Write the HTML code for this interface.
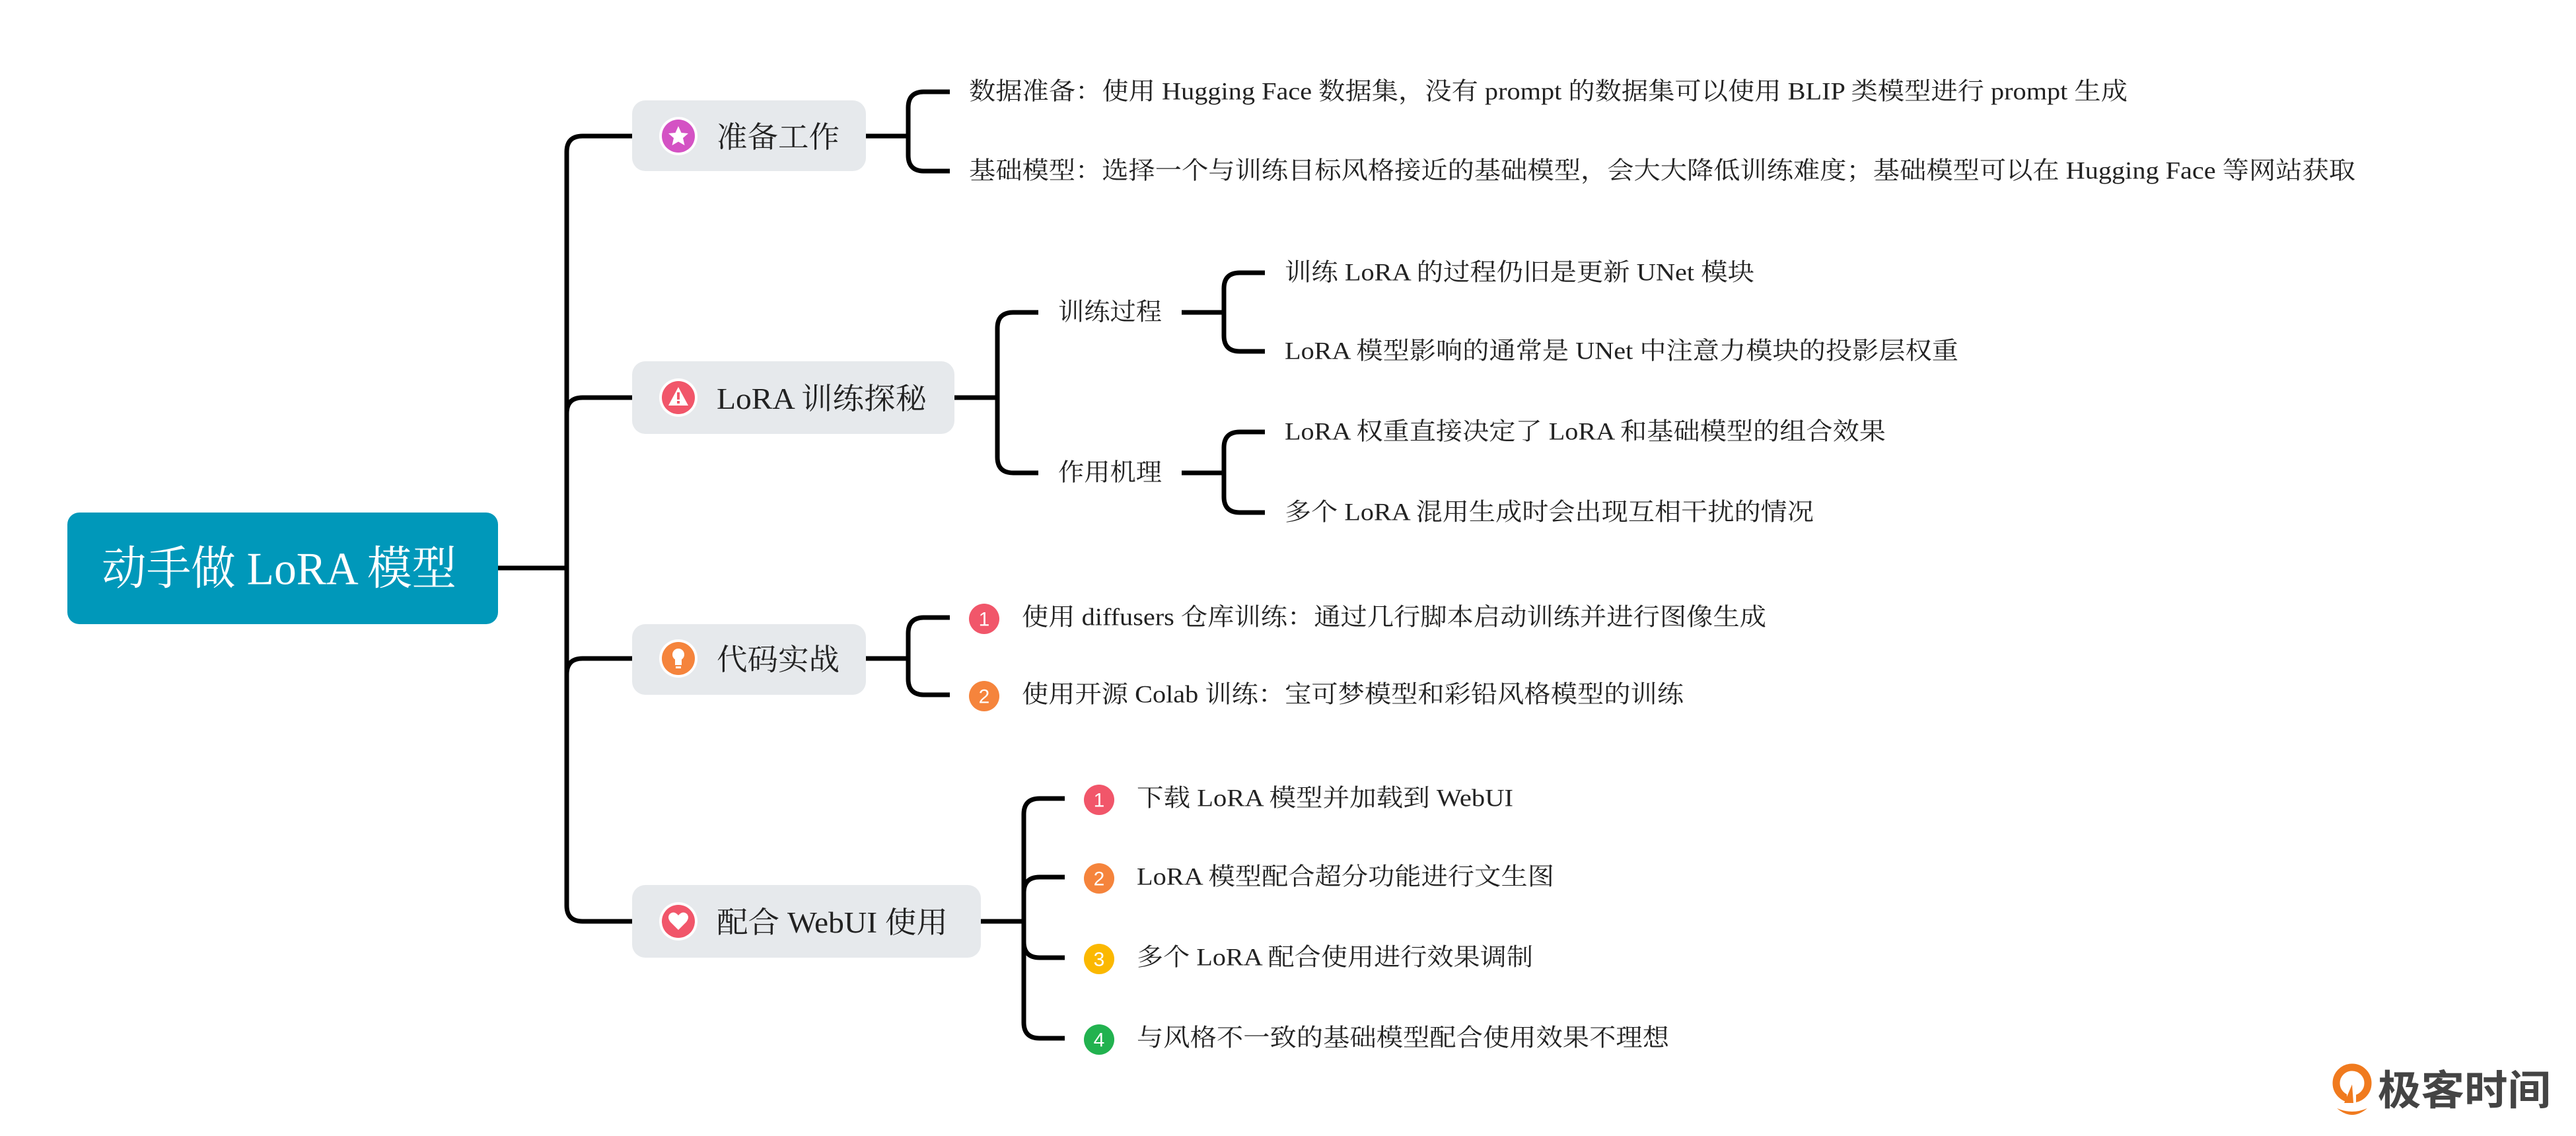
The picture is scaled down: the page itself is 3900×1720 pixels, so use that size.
<!DOCTYPE html>
<html><head><meta charset="utf-8"><style>
html,body{margin:0;padding:0;background:#fff;}
svg{display:block;}
text{font-family:"Liberation Serif","Noto Serif CJK SC",serif;fill:#222;}
</style></head><body>
<svg width="3900" height="1720" viewBox="0 0 3900 1720" xmlns="http://www.w3.org/2000/svg">
<g fill="none" stroke="#000" stroke-width="7" stroke-linecap="butt">
  <path d="M754,860 H858"/>
  <path d="M957,206 H882 Q858,206 858,230 V1371 Q858,1395 882,1395 H957"/>
  <path d="M858,640 V626 Q858,602 882,602 H957"/>
  <path d="M858,1021 V1021 Q858,997 882,997 H957"/>
  <path d="M1311,206 H1375"/>
  <path d="M1438,139 H1399 Q1375,139 1375,163 V235 Q1375,259 1399,259 H1438"/>
  <path d="M1445,602 H1510"/>
  <path d="M1572,473 H1534 Q1510,473 1510,497 V692 Q1510,716 1534,716 H1572"/>
  <path d="M1789,473 H1853"/>
  <path d="M1915,413 H1877 Q1853,413 1853,437 V508 Q1853,532 1877,532 H1915"/>
  <path d="M1789,716 H1853"/>
  <path d="M1915,654 H1877 Q1853,654 1853,678 V752 Q1853,776 1877,776 H1915"/>
  <path d="M1311,997 H1375"/>
  <path d="M1438,935 H1399 Q1375,935 1375,959 V1028 Q1375,1052 1399,1052 H1438"/>
  <path d="M1485,1395 H1550"/>
  <path d="M1612,1209 H1574 Q1550,1209 1550,1233 V1548 Q1550,1572 1574,1572 H1612"/>
  <path d="M1550,1352 Q1550,1328 1574,1328 H1612"/>
  <path d="M1550,1426 Q1550,1450 1574,1450 H1612"/>
</g>

<rect x="102" y="776" width="652" height="169" rx="18" fill="#0098ba"/>
<text x="154" y="862" font-size="70" fill="#fff" style="fill:#fff" dominant-baseline="central" textLength="537" lengthAdjust="spacingAndGlyphs">动手做 LoRA 模型</text>

<rect x="957" y="152" width="354" height="107" rx="20" fill="#e6e9ec"/>
<rect x="957" y="547" width="488" height="110" rx="20" fill="#e6e9ec"/>
<rect x="957" y="945" width="354" height="107" rx="20" fill="#e6e9ec"/>
<rect x="957" y="1340" width="528" height="110" rx="20" fill="#e6e9ec"/>

<circle cx="1027" cy="206" r="29" fill="#fff"/><circle cx="1027" cy="206" r="25" fill="#d452c4"/>
<polygon points="1027,191 1031.5,201 1042,202 1034,209 1036.5,220 1027,214.5 1017.5,220 1020,209 1012,202 1022.5,201" fill="#fff"/>
<circle cx="1027" cy="602" r="29" fill="#fff"/><circle cx="1027" cy="602" r="25" fill="#f1566a"/>
<polygon points="1027,586 1042,614 1012,614" fill="#fff"/>
<rect x="1025" y="594" width="4" height="11" fill="#f1566a"/><rect x="1025" y="607" width="4" height="4" fill="#f1566a"/>
<circle cx="1027" cy="997" r="29" fill="#fff"/><circle cx="1027" cy="997" r="25" fill="#f5843c"/>
<circle cx="1027" cy="991" r="9" fill="#fff"/><rect x="1022" y="997" width="10" height="10" fill="#fff"/><rect x="1023" y="1009" width="8" height="3" fill="#fff"/>
<circle cx="1027" cy="1395" r="29" fill="#fff"/><circle cx="1027" cy="1395" r="25" fill="#f1566a"/>
<path d="M1027,1408 L1015,1396 Q1009,1388 1015,1383 Q1021,1379 1027,1386 Q1033,1379 1039,1383 Q1045,1388 1039,1396 Z" fill="#fff"/>

<g font-size="45" dominant-baseline="central">
<text x="1085" y="208" textLength="186" lengthAdjust="spacingAndGlyphs">准备工作</text>
<text x="1085" y="604" textLength="318" lengthAdjust="spacingAndGlyphs">LoRA 训练探秘</text>
<text x="1085" y="999" textLength="186" lengthAdjust="spacingAndGlyphs">代码实战</text>
<text x="1085" y="1397" textLength="350" lengthAdjust="spacingAndGlyphs">配合 WebUI 使用</text>
</g>

<g font-size="37" dominant-baseline="central">
<text x="1467" y="139" textLength="1754" lengthAdjust="spacingAndGlyphs">数据准备：使用 Hugging Face 数据集，没有 prompt 的数据集可以使用 BLIP 类模型进行 prompt 生成</text>
<text x="1467" y="259" textLength="2099" lengthAdjust="spacingAndGlyphs">基础模型：选择一个与训练目标风格接近的基础模型，会大大降低训练难度；基础模型可以在 Hugging Face 等网站获取</text>
<text x="1602" y="473" textLength="157" lengthAdjust="spacingAndGlyphs">训练过程</text>
<text x="1602" y="716" textLength="157" lengthAdjust="spacingAndGlyphs">作用机理</text>
<text x="1945" y="413" textLength="711" lengthAdjust="spacingAndGlyphs">训练 LoRA 的过程仍旧是更新 UNet 模块</text>
<text x="1945" y="532" textLength="1020" lengthAdjust="spacingAndGlyphs">LoRA 模型影响的通常是 UNet 中注意力模块的投影层权重</text>
<text x="1945" y="654" textLength="910" lengthAdjust="spacingAndGlyphs">LoRA 权重直接决定了 LoRA 和基础模型的组合效果</text>
<text x="1945" y="776" textLength="801" lengthAdjust="spacingAndGlyphs">多个 LoRA 混用生成时会出现互相干扰的情况</text>
<text x="1547" y="935" textLength="1127" lengthAdjust="spacingAndGlyphs">使用 diffusers 仓库训练：通过几行脚本启动训练并进行图像生成</text>
<text x="1547" y="1052" textLength="1002" lengthAdjust="spacingAndGlyphs">使用开源 Colab 训练：宝可梦模型和彩铅风格模型的训练</text>
<text x="1721" y="1209" textLength="570" lengthAdjust="spacingAndGlyphs">下载 LoRA 模型并加载到 WebUI</text>
<text x="1721" y="1328" textLength="632" lengthAdjust="spacingAndGlyphs">LoRA 模型配合超分功能进行文生图</text>
<text x="1721" y="1450" textLength="600" lengthAdjust="spacingAndGlyphs">多个 LoRA 配合使用进行效果调制</text>
<text x="1721" y="1572" textLength="806" lengthAdjust="spacingAndGlyphs">与风格不一致的基础模型配合使用效果不理想</text>
</g>

<g font-family="Liberation Sans, sans-serif" font-size="30" text-anchor="middle" dominant-baseline="central">
<circle cx="1490" cy="937" r="23" fill="#f1566a"/><text x="1490" y="938" style="fill:#fff;font-family:'Liberation Sans',sans-serif">1</text>
<circle cx="1490" cy="1054" r="23" fill="#f5843c"/><text x="1490" y="1055" style="fill:#fff;font-family:'Liberation Sans',sans-serif">2</text>
<circle cx="1664" cy="1211" r="23" fill="#f1566a"/><text x="1664" y="1212" style="fill:#fff;font-family:'Liberation Sans',sans-serif">1</text>
<circle cx="1664" cy="1330" r="23" fill="#f5843c"/><text x="1664" y="1331" style="fill:#fff;font-family:'Liberation Sans',sans-serif">2</text>
<circle cx="1664" cy="1452" r="23" fill="#fbb800"/><text x="1664" y="1453" style="fill:#fff;font-family:'Liberation Sans',sans-serif">3</text>
<circle cx="1664" cy="1574" r="23" fill="#22b24f"/><text x="1664" y="1575" style="fill:#fff;font-family:'Liberation Sans',sans-serif">4</text>
</g>

<circle cx="3561" cy="1640" r="24" fill="none" stroke="#f07a1e" stroke-width="11"/>
<rect x="3553" y="1650" width="14" height="20" fill="#fff"/>
<polygon points="3549,1670 3561,1642 3563,1670" fill="#f07a1e"/>
<path d="M3538,1678 Q3561,1698 3584,1678 Q3561,1688 3538,1678 Z" fill="#f07a1e"/>
<text x="3600" y="1652" font-size="62" font-weight="bold" dominant-baseline="central" textLength="262" lengthAdjust="spacingAndGlyphs" style="fill:#444;font-family:'Liberation Sans','Noto Sans CJK SC',sans-serif">极客时间</text>
</svg>
</body></html>
